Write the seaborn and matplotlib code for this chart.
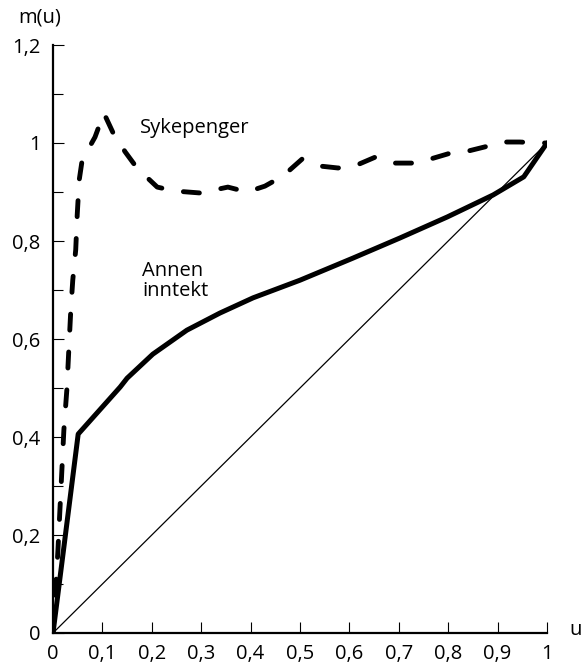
import matplotlib
matplotlib.use("Agg")
import matplotlib.pyplot as plt
import seaborn as sns
import pandas as pd
import numpy as np

# Sykepenger (dashed)
syk_u = [0.0, 0.010, 0.014, 0.018, 0.022, 0.028, 0.032, 0.036, 0.040, 0.046, 0.049, 0.053,
         0.059, 0.085, 0.103, 0.121, 0.146, 0.170, 0.211, 0.247, 0.298, 0.354, 0.393, 0.429,
         0.466, 0.504, 0.540, 0.577, 0.615, 0.652, 0.688, 0.727, 0.763, 0.800, 0.834, 0.874,
         0.909, 0.945, 0.982, 1.0]
syk_m = [0.0, 0.169, 0.251, 0.333, 0.414, 0.496, 0.578, 0.659, 0.720, 0.782, 0.853, 0.924,
         0.965, 1.012, 1.061, 1.022, 0.982, 0.949, 0.910, 0.902, 0.898, 0.910, 0.900, 0.912,
         0.933, 0.967, 0.953, 0.949, 0.955, 0.971, 0.959, 0.959, 0.967, 0.978, 0.982, 0.992,
         1.002, 1.002, 1.000, 1.0]

# Annen inntekt (solid)
ann_u = [0.0, 0.051, 0.136, 0.150, 0.202, 0.271, 0.338, 0.405, 0.500, 0.607, 0.702,
         0.798, 0.891, 0.953, 1.0]
ann_m = [0.0, 0.406, 0.502, 0.520, 0.569, 0.618, 0.653, 0.684, 0.720, 0.765, 0.806,
         0.849, 0.894, 0.931, 1.0]

# Diagonal
diag_u = [0.0, 1.0]
diag_m = [0.0, 1.0]

x_ticks = [0, 0.1, 0.2, 0.3, 0.4, 0.5, 0.6, 0.7, 0.8, 0.9, 1.0]
x_labels = ["0", "0,1", "0,2", "0,3", "0,4", "0,5", "0,6", "0,7", "0,8", "0,9", "1"]
y_ticks = [0, 0.2, 0.4, 0.6, 0.8, 1.0, 1.2]
y_labels = ["0", "0,2", "0,4", "0,6", "0,8", "1", "1,2"]
y_minor = [0.1, 0.3, 0.5, 0.7, 0.9, 1.1]

sns.set_theme(style="white")
plt.rcParams["font.family"] = ["Open Sans", "DejaVu Sans"]

FS = 14.5

fig = plt.figure(figsize=(5.82, 6.67), dpi=100)
ax = fig.add_axes([53/582, 34/667, 494/582, 588/667])

df_syk = pd.DataFrame({"u": syk_u, "m": syk_m})
df_ann = pd.DataFrame({"u": ann_u, "m": ann_m})
df_diag = pd.DataFrame({"u": diag_u, "m": diag_m})

sns.lineplot(data=df_diag, x="u", y="m", ax=ax, color="black", linewidth=0.9,
             estimator=None, sort=False)
sns.lineplot(data=df_ann, x="u", y="m", ax=ax, color="black", linewidth=3.6,
             estimator=None, sort=False, solid_joinstyle="round", solid_capstyle="round")
sns.lineplot(data=df_syk, x="u", y="m", ax=ax, color="black", linewidth=3.5,
             estimator=None, sort=False)
line = ax.lines[-1]
line.set_dashes((3.3, 4.5))
line.set_dash_capstyle("round")

ax.set_xlim(0, 1)
ax.set_ylim(0, 1.2)
ax.set_xticks(x_ticks)
ax.set_xticklabels(x_labels)
ax.set_yticks(y_ticks)
ax.set_yticklabels(y_labels)
ax.set_yticks(y_minor, minor=True)
ax.set_xlabel("")
ax.set_ylabel("")

for s in ["top", "right"]:
    ax.spines[s].set_visible(False)
for s in ["left", "bottom"]:
    ax.spines[s].set_linewidth(1.6)
    ax.spines[s].set_color("black")

ax.tick_params(axis="both", which="major", direction="in", length=8, width=0.8,
               colors="black", labelsize=FS, left=True, bottom=True)
ax.tick_params(axis="x", pad=8)
ax.tick_params(axis="y", pad=9)
ax.tick_params(axis="y", which="minor", direction="in", length=7, width=0.8,
               colors="black", left=True)

ax.text(-0.026, 1.046, "m(u)", transform=ax.transAxes, ha="center", va="center",
        fontsize=FS, color="black")
ax.text(1.057, 0.005, "u", transform=ax.transAxes, ha="center", va="center",
        fontsize=FS, color="black")
ax.text(0.175, 1.03, "Sykepenger", ha="left", va="center", fontsize=FS, color="black")
ax.text(0.18, 0.718, "Annen\ninntekt", ha="left", va="center", fontsize=FS,
        color="black", linespacing=1.0)

fig.savefig("out.png", dpi=100)
